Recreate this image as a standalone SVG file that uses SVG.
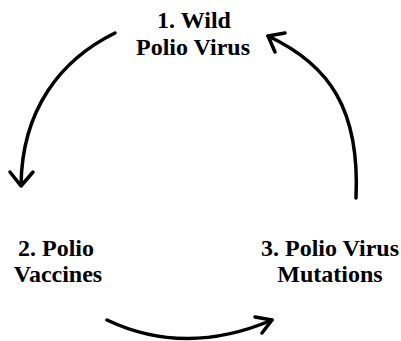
<svg xmlns="http://www.w3.org/2000/svg" width="401" height="341" viewBox="0 0 401 341">
<style>
.lbl{font-family:"Liberation Serif","Times New Roman",serif;font-weight:bold;font-size:24px;fill:#000;text-anchor:middle}
.arc{fill:none;stroke:#000;stroke-width:3.5;stroke-linecap:round;stroke-linejoin:round}
</style>
<rect width="401" height="341" fill="#fff"/>
<g id="connectors">
<path class="arc" d="M115,33 C60,60 22,110 21,185"/>
<path class="arc" d="M10,172 L21,186 L33,172"/>
<path class="arc" d="M107,320 Q185,357 272,320"/>
<path class="arc" d="M255,317 L272,320 L262,333"/>
<path class="arc" d="M356,198 C360,110 330,65 268,36"/>
<path class="arc" d="M285,33 L268,36 L275,52"/>
</g>
<g id="node1">
<text class="lbl" x="194" y="28">1. Wild</text>
<text class="lbl" x="193" y="55">Polio Virus</text>
</g>
<g id="node2">
<text class="lbl" x="56" y="256">2. Polio</text>
<text class="lbl" x="58" y="282">Vaccines</text>
</g>
<g id="node3">
<text class="lbl" x="330" y="256">3. Polio Virus</text>
<text class="lbl" x="330" y="282">Mutations</text>
</g>
</svg>
